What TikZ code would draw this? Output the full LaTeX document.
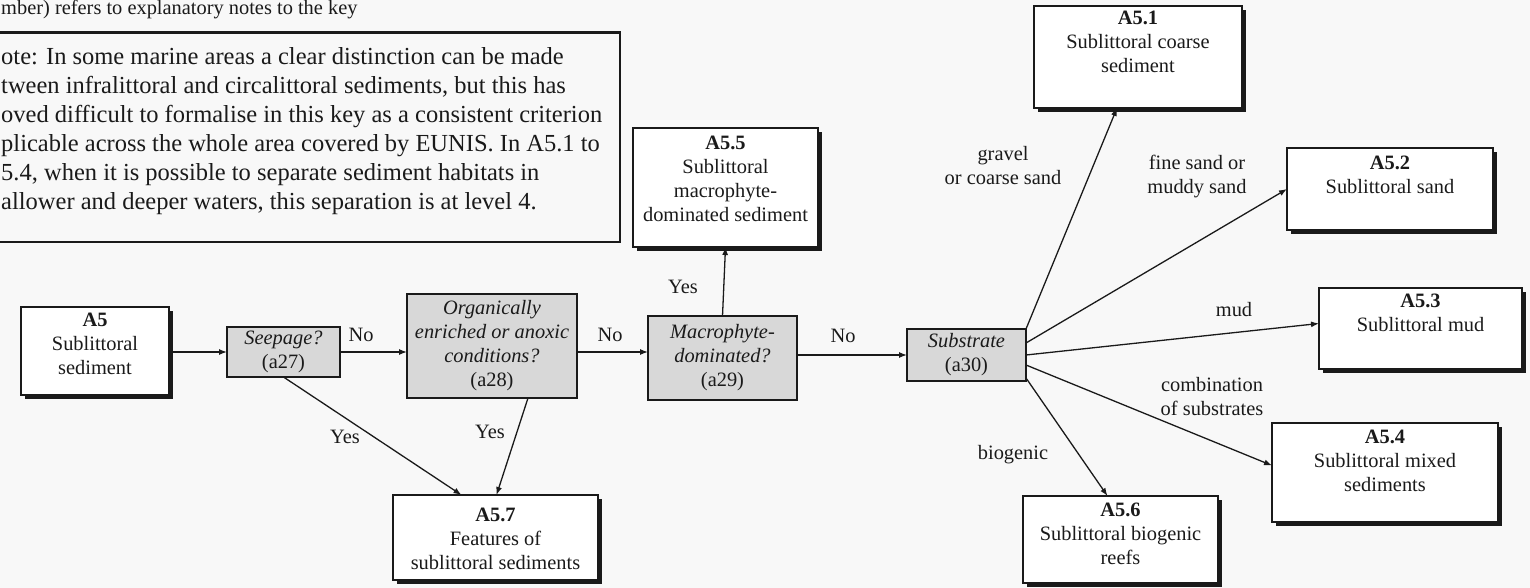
\documentclass[tikz,border=0pt]{standalone}
\usepackage{fontspec}
\setmainfont{Liberation Serif}
\usetikzlibrary{arrows.meta,shadows}

\definecolor{ink}{HTML}{1A1A1A}
\definecolor{paper}{HTML}{F8F8F8}
\definecolor{query}{HTML}{D8D8D8}

\newcommand\cellfont{\fontsize{20.4}{24}\selectfont}
\newcommand\memofont{\fontsize{24.5}{29}\selectfont}
% fixed-size cell with its text hung from the top edge
\newcommand\cellbox[4]{\parbox[c][#2][t]{#1}{\centering\vspace*{#3}\strut #4\par}}

\tikzset{
  habitat/.style={draw=ink, line width=1.4pt, fill=white, inner sep=0pt, outer sep=0pt,
    anchor=north west, font=\cellfont, text=ink,
    drop shadow={shadow xshift=4pt, shadow yshift=-4pt, fill=ink, opacity=1}},
  question/.style={draw=ink, line width=1.2pt, fill=query, inner sep=0pt, outer sep=0pt,
    anchor=north west, align=center, font=\cellfont\itshape, text=ink},
  lbl/.style={font=\cellfont, text=ink, inner sep=0pt},
  arr/.style={draw=ink, line width=1.3pt, -{Latex[length=8pt,width=6pt]}},
  memo/.style={draw=ink, line width=2.5pt, inner sep=0pt, outer sep=0pt, anchor=north west}
}

\begin{document}
\begin{tikzpicture}[x=1pt,y=-1pt]
\useasboundingbox (0,0) rectangle (1530,588);
\fill[paper] (0,0) rectangle (1530,588);
\clip (0,0) rectangle (1530,588);

% heading line and explanatory note (the page starts mid-word)
\node[lbl, anchor=base west] (keyref) at (1,15) {mber) refers to explanatory notes to the key};
\node[memo, minimum width=650pt, minimum height=209.5pt] (note) at (-30,32.5) {};
\node[font=\memofont, text=ink, align=left, anchor=north west, inner sep=0pt] (notetext) at (1,43.7)
  {\strut ote: In some marine areas a clear distinction can be made\\
   tween infralittoral and circalittoral sediments, but this has\\
   oved difficult to formalise in this key as a consistent criterion\\
   plicable across the whole area covered by EUNIS. In A5.1 to\\
   5.4, when it is possible to separate sediment habitats in\\
   allower and deeper waters, this separation is at level 4.};

% habitat boxes
\node[habitat] (a5)  at (21,307)   {\cellbox{148pt}{88pt}{3pt}{\textbf{A5}\\Sublittoral\\sediment}};
\node[habitat] (a57) at (393,495)  {\cellbox{205pt}{85pt}{10pt}{\textbf{A5.7}\\Features of\\sublittoral sediments}};
\node[habitat] (a55) at (633,128)  {\cellbox{185pt}{119pt}{5pt}{\textbf{A5.5}\\Sublittoral\\macrophyte-\\dominated sediment}};
\node[habitat] (a51) at (1034,6)   {\cellbox{208pt}{102pt}{2pt}{\textbf{A5.1}\\Sublittoral coarse\\sediment}};
\node[habitat] (a52) at (1287,148) {\cellbox{206pt}{82pt}{5pt}{\textbf{A5.2}\\Sublittoral sand}};
\node[habitat] (a53) at (1319,288) {\cellbox{203pt}{81pt}{3pt}{\textbf{A5.3}\\Sublittoral mud}};
\node[habitat] (a54) at (1272,423) {\cellbox{226pt}{99pt}{4pt}{\textbf{A5.4}\\Sublittoral mixed\\sediments}};
\node[habitat] (a56) at (1023,496) {\cellbox{195pt}{87pt}{4pt}{\textbf{A5.6}\\Sublittoral biogenic\\reefs}};

% key questions
\node[question, minimum width=113pt, minimum height=50pt]  (a27) at (227,327) {Seepage?\\\textup{(a27)}};
\node[question, minimum width=170pt, minimum height=104pt] (a28) at (407,294) {Organically\\enriched or anoxic\\conditions?\\\textup{(a28)}};
\node[question, minimum width=149pt, minimum height=84pt]  (a29) at (648,316) {Macrophyte-\\dominated?\\\textup{(a29)}};
\node[question, minimum width=119pt, minimum height=52pt]  (a30) at (907,329) {Substrate\\\textup{(a30)}};

% connectors
\draw[arr] (a5.east |- a27) -- (a27.west);
\draw[arr] (a27.east) -- (a27.east -| a28.west);
\draw[arr] (a27.south) -- ([xshift=-34pt]a57.north);
\draw[arr] ([xshift=36pt]a28.south) -- ([xshift=1pt]a57.north);
\draw[arr] (a28.east |- a27) -- (a29.west |- a27);
\draw[arr] (a29.north) -- (a55.south);
\draw[arr] (a29.east |- a30) -- (a30.west);
\draw[arr] (a30.north east) -- ([xshift=-21pt]a51.south);
\draw[arr] ([yshift=12pt]a30.east) -- (a52.west);
\draw[arr] (a30.east) -- ([yshift=5pt]a53.west);
\draw[arr] ([yshift=-10pt]a30.east) -- ([yshift=7pt]a54.west);
\draw[arr] ([yshift=-23pt]a30.east) -- ([xshift=-13pt]a56.north);

% branch labels
\node[lbl] (no1)  at (361,335) {No};
\node[lbl] (yes1) at (345,437) {Yes};
\node[lbl] (yes2) at (490,432) {Yes};
\node[lbl] (no2)  at (610,335) {No};
\node[lbl] (yes3) at (683,287) {Yes};
\node[lbl] (no3)  at (843,336) {No};
\node[lbl, align=center] (lgravel) at (1003,166) {gravel\\or coarse sand};
\node[lbl, align=center] (lsand)   at (1197,177) {fine sand or\\muddy sand};
\node[lbl] (lmud) at (1234,310) {mud};
\node[lbl, align=center] (lmix)    at (1212,397) {combination\\of substrates};
\node[lbl] (lbio) at (1013,455) {biogenic};
\end{tikzpicture}
\end{document}
